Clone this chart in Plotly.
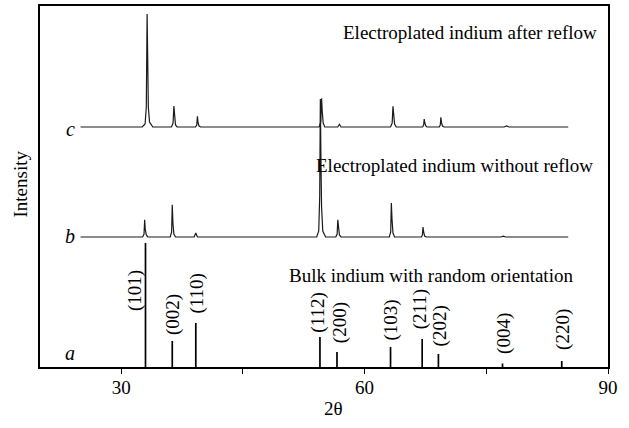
import plotly.graph_objects as go

# ---------------- data ----------------
# (a) bulk indium reference stick pattern
bulk_two_theta = [33.0, 36.3, 39.2, 54.5, 56.6, 63.2, 67.1, 69.1, 77.0, 84.3]
bulk_intensity = [124, 26, 44, 30, 15, 20, 28, 13, 3.5, 6]
bulk_hkl = ["(101)", "(002)", "(110)", "(112)", "(200)", "(103)", "(211)", "(202)", "(004)", "(220)"]

# (b) electroplated indium without reflow
b_two_theta = [25.0,
               32.65, 32.82, 32.9, 32.97, 33.1, 33.3,
               36.05, 36.22, 36.3, 36.38, 36.5, 36.7,
               39.0, 39.2, 39.4,
               54.1, 54.35, 54.47, 54.55, 54.62, 54.7, 54.85, 55.2,
               56.45, 56.62, 56.7, 56.77, 56.9, 57.1,
               63.05, 63.22, 63.3, 63.38, 63.5, 63.7,
               67.0, 67.13, 67.2, 67.28, 67.4, 67.6,
               76.8, 77.1, 77.4,
               85.1]
b_intensity = [0,
               0, 3, 17.3, 8, 2, 0,
               0, 5, 32.3, 14, 3, 0,
               0, 4, 0,
               0, 6, 40, 138, 80, 30, 6, 0,
               0, 3, 17.3, 9, 2, 0,
               0, 5, 34, 18, 4, 0,
               0, 2, 10, 5, 1, 0,
               0, 0.8, 0,
               0]

# (c) electroplated indium after reflow
c_two_theta = [25.0,
               32.6, 32.95, 33.1, 33.2, 33.27, 33.35, 33.5, 33.9,
               36.2, 36.4, 36.5, 36.58, 36.7, 36.9,
               39.15, 39.32, 39.4, 39.48, 39.6, 39.8,
               54.4, 54.6, 54.7, 54.78, 54.9, 55.1,
               56.7, 56.9, 57.1,
               63.2, 63.4, 63.5, 63.58, 63.7, 63.9,
               67.15, 67.28, 67.35, 67.43, 67.55, 67.7,
               69.2, 69.33, 69.4, 69.48, 69.6, 69.8,
               77.2, 77.5, 77.8,
               85.1]
c_intensity = [0,
               0, 3, 20, 113, 60, 20, 5, 0,
               0, 4, 21, 9, 2, 0,
               0, 2, 10.6, 4, 1, 0,
               0, 5, 28.6, 16, 4, 0,
               0, 2.7, 0,
               0, 4, 20.6, 12, 3, 0,
               0, 2, 8, 4, 1, 0,
               0, 2, 9.6, 4.5, 1, 0,
               0, 1, 0,
               0]

b_offset = 130
c_offset = 240

# ---------------- layout helpers ----------------
# label positions (2theta centre, bottom y) for rotated Miller indices
label_x = [31.66, 36.42, 39.29, 54.22, 56.93, 63.29, 66.78, 69.32, 77.11, 84.42]
label_y = [54, 29.7, 51, 32, 22, 24.3, 35.3, 18.3, 11, 15.3]

FONT = "Liberation Serif, Times New Roman, serif"
INK = "#1a1a1a"
FS = 19

fig = go.Figure()

# sticks for (a)
sx, sy = [], []
for t, h in zip(bulk_two_theta, bulk_intensity):
    sx += [t, t, None]
    sy += [0, h, None]
fig.add_trace(go.Scatter(x=sx, y=sy, mode="lines",
                         line=dict(color="black", width=1.7),
                         hoverinfo="skip", showlegend=False))

fig.add_trace(go.Scatter(x=b_two_theta, y=[v + b_offset for v in b_intensity],
                         mode="lines", line=dict(color=INK, width=1.2),
                         showlegend=False))
fig.add_trace(go.Scatter(x=c_two_theta, y=[v + c_offset for v in c_intensity],
                         mode="lines", line=dict(color=INK, width=1.2),
                         showlegend=False))

ann = []
for lab, lx, ly in zip(bulk_hkl, label_x, label_y):
    ann.append(dict(x=lx, y=ly, xref="x", yref="y", text=lab, textangle=-90,
                    showarrow=False, xanchor="center", yanchor="bottom",
                    font=dict(family=FONT, size=FS, color="black")))

PL, PT, PW, PH = 40, 6, 568, 361  # plot area in page pixels

ann += [
    dict(x=88.9, y=335, text="Electroplated indium after reflow", xanchor="right",
         yanchor="middle", showarrow=False, font=dict(family=FONT, size=FS, color="black")),
    dict(x=88.45, y=202, text="Electroplated indium without reflow", xanchor="right",
         yanchor="middle", showarrow=False, font=dict(family=FONT, size=FS, color="black")),
    dict(x=85.9, y=92, text="Bulk indium with random orientation", xanchor="right",
         yanchor="middle", showarrow=False, font=dict(family=FONT, size=FS, color="black")),
    dict(x=23.7, y=238, text="<i>c</i>", showarrow=False, xanchor="center", yanchor="middle",
         font=dict(family=FONT, size=20, color="black")),
    dict(x=23.7, y=131, text="<i>b</i>", showarrow=False, xanchor="center", yanchor="middle",
         font=dict(family=FONT, size=20, color="black")),
    dict(x=23.7, y=14, text="<i>a</i>", showarrow=False, xanchor="center", yanchor="middle",
         font=dict(family=FONT, size=20, color="black")),
    # axis titles
    dict(x=(333 - PL) / PW, y=(PT + PH - 408) / PH, xref="paper", yref="paper", text="2θ",
         showarrow=False, xanchor="center", yanchor="middle",
         font=dict(family=FONT, size=FS, color="black")),
    dict(x=(20.5 - PL) / PW, y=(PT + PH - 184) / PH, xref="paper", yref="paper", text="Intensity",
         textangle=-90, showarrow=False, xanchor="center", yanchor="middle",
         font=dict(family=FONT, size=FS, color="black")),
]

fig.update_layout(
    width=629, height=428,
    margin=dict(l=PL, r=629 - PL - PW, t=PT, b=428 - PT - PH),
    paper_bgcolor="white", plot_bgcolor="white",
    annotations=ann,
    font=dict(family=FONT, size=FS, color="black"),
    xaxis=dict(range=[20, 90], showgrid=False, zeroline=False, automargin=False,
               showline=True, linecolor="black", linewidth=2, mirror=True,
               ticks="outside", ticklen=5, tickwidth=1.2, tickcolor="black",
               ticklabelstandoff=-3,
               tickvals=[30, 45, 60, 75, 90], ticktext=["30", "", "60", "", "90"],
               tickfont=dict(family=FONT, size=FS)),
    yaxis=dict(range=[0, 361], showgrid=False, zeroline=False, automargin=False,
               showline=True, linecolor="black", linewidth=2, mirror=True,
               showticklabels=False, ticks=""),
)

fig.write_html("out.html", config={"displayModeBar": False},
               post_script="document.body.style.margin='0px';")
